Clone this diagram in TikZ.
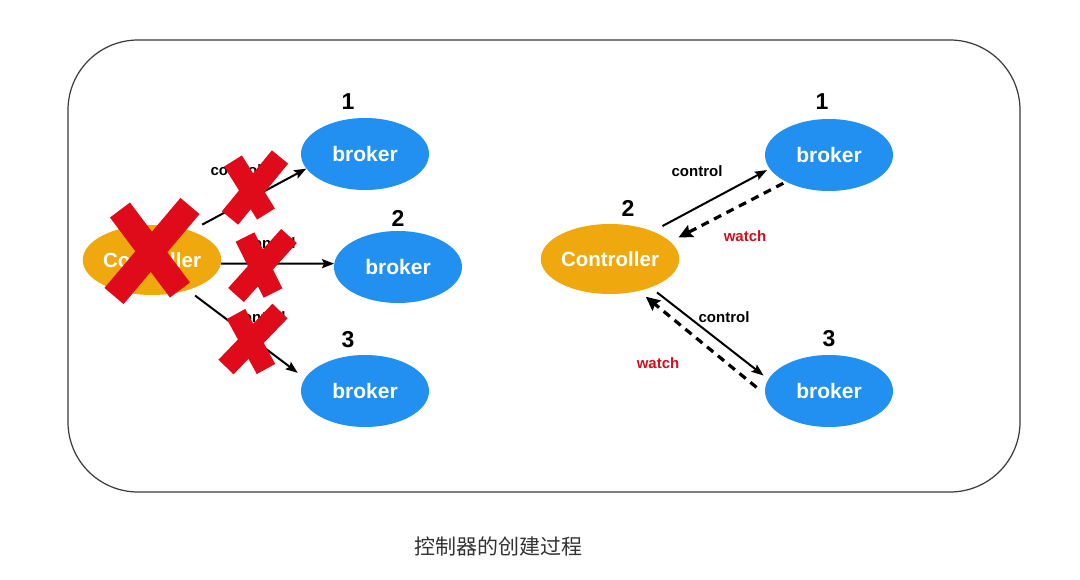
\documentclass[tikz,border=0pt]{standalone}
\usepackage{fontspec}
\setmainfont{Liberation Sans}
\newfontfamily\cjkfont{Noto Sans CJK SC}
\usetikzlibrary{shapes.geometric,arrows.meta}
\usepackage{xcolor}
\definecolor{brokerblue}{HTML}{2190F0}
\definecolor{ctrlorange}{HTML}{EFA80E}
\definecolor{crossred}{HTML}{DF0A1A}
\definecolor{watchred}{HTML}{D0101E}
\definecolor{framegray}{HTML}{3A3A3A}
\definecolor{captiongray}{HTML}{333333}

\begin{document}
\begin{tikzpicture}[x=1pt, y=-1pt,
  broker/.style={ellipse, fill=brokerblue, minimum width=128pt, minimum height=72pt,
                 inner sep=0pt, text=white, font=\fontsize{21}{24}\selectfont\bfseries},
  ctrl/.style={ellipse, fill=ctrlorange, minimum width=130pt, minimum height=70pt,
               inner sep=0pt, text=white, font=\fontsize{20.5}{24}\selectfont\bfseries},
  num/.style={font=\fontsize{23}{26}\selectfont\bfseries},
  lbl/.style={font=\fontsize{15}{18}\selectfont\bfseries},
  ctl/.style={-{Stealth[length=12pt,width=9pt,inset=2pt]}, line width=2pt},
  wat/.style={-{Stealth[length=14pt,width=13pt,inset=2pt]}, line width=3.2pt, dash pattern=on 8pt off 6pt},
  cross/.style={crossred, line width=21pt}]
  \useasboundingbox[fill=white] (0,0) rectangle (1080,579);
  % outer frame
  \draw[framegray, line width=1.2pt, rounded corners=70pt] (68,40) rectangle (1020,492);

  % Left half — the old controller has gone
  \node[ctrl]   (ctrlL) at (152,260) {Controller};
  \node[broker] (b1L)   at (365,154) {broker};
  \node[broker] (b2L)   at (398,267) {broker};
  \node[broker] (b3L)   at (365,391) {broker};
  \node[num] (n1L) at (348,102) {1};
  \node[num] (n2L) at (398,218) {2};
  \node[num] (n3L) at (348,340) {3};
  \draw[ctl, shorten <=13pt] (ctrlL.37) -- (b1L.194);
  \draw[ctl] (ctrlL.-3) -- (b2L.177);
  \draw[ctl, shorten <=9pt, shorten >=9pt] (ctrlL.-40) -- (b3L.168);
  \node[lbl] (cl1L) at (236,170) {control};
  \node[lbl] (cl2L) at (270,243) {control};
  \node[lbl] (cl3L) at (260,317) {control};
  % red crosses on top
  \draw[cross, line width=25pt] (120,210) -- (180,290);
  \draw[cross, line width=25pt] (190,206) -- (114,296);
  \draw[cross] (233,161) -- (266,214);
  \draw[cross] (280,157) -- (230,218);
  \draw[cross] (245,237) -- (273,293);
  \draw[cross] (289,236) -- (236,295);
  \draw[cross] (236,314) -- (266,369);
  \draw[cross] (280,311) -- (226,367);

  % Right half — the new controller
  \node[ctrl]   (ctrlR) at (610,259) {Controller};
  \node[broker] (b1R)   at (829,155) {broker};
  \node[broker] (b3R)   at (829,391) {broker};
  \node[num] (n1R) at (822,102) {1};
  \node[num] (n2R) at (628,208) {2};
  \node[num] (n3R) at (829,339) {3};
  \draw[ctl, shorten <=11pt, shorten >=3pt] (ctrlR.33) -- (b1R.193);
  \draw[wat, shorten <=3pt, shorten >=9pt] (b1R.212) -- (ctrlR.16);
  \draw[ctl, shorten <=8pt, shorten >=6pt] (ctrlR.-35) -- (b3R.169);
  \draw[wat, shorten <=11pt, shorten >=9pt] (b3R.183) -- (ctrlR.-48);
  \node[lbl] (cl1R) at (697,171) {control};
  \node[lbl, text=watchred] (wl1R) at (745,236) {watch};
  \node[lbl] (cl3R) at (724,317) {control};
  \node[lbl, text=watchred] (wl3R) at (658,363) {watch};

  % caption
  \node[font=\cjkfont\fontsize{21}{24}\selectfont, text=captiongray] (cap) at (498,546) {控制器的创建过程};
\end{tikzpicture}
\end{document}
